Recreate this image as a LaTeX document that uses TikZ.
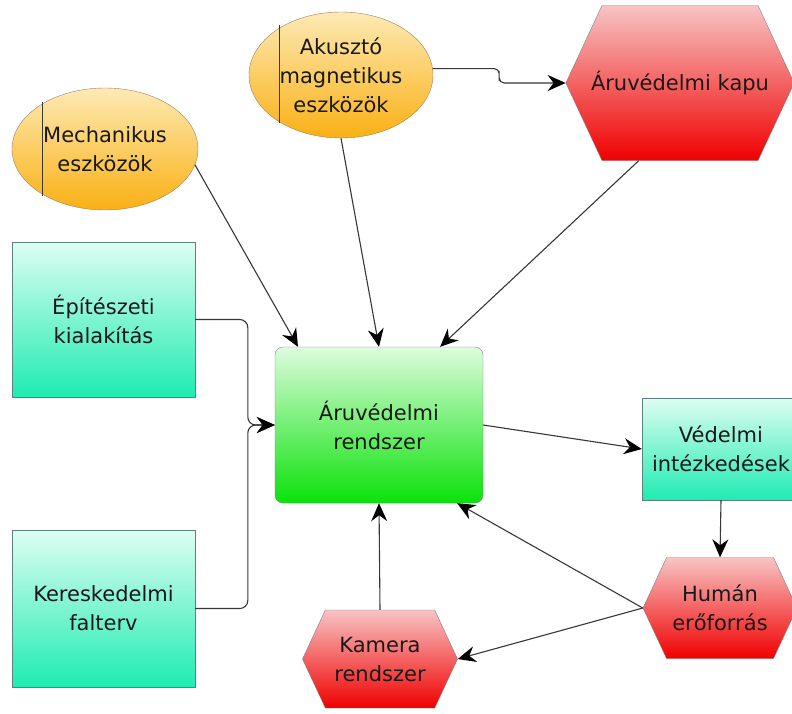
\documentclass[tikz,border=0pt]{standalone}
\usepackage{fontspec}
\setmainfont{DejaVu Sans}
\usepackage{tikz}
\usetikzlibrary{arrows.meta,calc,positioning,shapes.geometric,shapes.symbols}

\definecolor{orgtop}{RGB}{253,234,180}
\definecolor{orgbot}{RGB}{250,176,20}
\definecolor{redtop}{RGB}{248,196,196}
\definecolor{redbot}{RGB}{240,0,0}
\definecolor{grntop}{RGB}{222,252,222}
\definecolor{grnbot}{RGB}{10,226,10}
\definecolor{aqtop}{RGB}{222,253,242}
\definecolor{aqbot}{RGB}{30,236,176}
\definecolor{edge}{RGB}{130,130,130}
\definecolor{wire}{RGB}{55,55,55}

\begin{document}
\begin{tikzpicture}[x=1pt,y=-1pt,>=Stealth,
    lbl/.style={align=center,inner sep=0pt,text=black!90,font={\fontsize{21}{29}\selectfont}},
    tool/.style={lbl,ellipse,draw=edge!80!orange,thin,top color=orgtop,bottom color=orgbot},
    hexa/.style={lbl,signal,signal to=east and west,signal pointer angle=130,draw=edge,thin,top color=redtop,bottom color=redbot},
    plan/.style={lbl,rectangle,draw=edge!70!teal,thin,top color=aqtop,bottom color=aqbot},
    core/.style={lbl,rectangle,rounded corners=8pt,draw=edge,thin,top color=grntop,bottom color=grnbot},
    arr/.style={wire,line width=1.1pt,arrows={-Stealth[length=18pt,width=16pt,inset=6pt,color=black]}}]
  \useasboundingbox (0,0) rectangle (792,713);
  \node[tool,minimum width=186pt,minimum height=122pt] (mech) at (105,149) {Mechanikus\\eszközök};
  \node[tool,minimum width=184pt,minimum height=126pt] (akusz) at (341,75) {Akusztó\\magnetikus\\eszközök};
  \node[hexa,minimum height=155pt,inner xsep=-11pt] (kapu) at (680,83) {Áruvédelmi kapu};
  \node[plan,minimum width=183pt,minimum height=155pt] (epit) at (103.5,319.5) {Építészeti\\kialakítás};
  \node[plan,minimum width=183pt,minimum height=157pt] (keres) at (103.5,608.5) {Kereskedelmi\\falterv};
  \node[core,minimum width=208pt,minimum height=156pt] (rend) at (379,425) {Áruvédelmi\\rendszer};
  \node[plan,minimum width=158pt,minimum height=102pt] (ved) at (721,449) {Védelmi\\intézkedések};
  \node[hexa,minimum width=154pt,minimum height=101pt] (hum) at (720,608) {Humán\\erőforrás};
  \node[hexa,minimum width=155pt,minimum height=98pt] (kam) at (380,659) {Kamera\\rendszer};
  % tool lines inside the ellipses
  \draw[wire,thick] ($(mech.center)+(-63,-47)$) -- ($(mech.center)+(-63,47)$);
  \draw[wire,thick] ($(akusz.center)+(-62,-50)$) -- ($(akusz.center)+(-62,48)$);
  % connectors
  \draw[arr,rounded corners=5pt] (akusz.4) -| ($(akusz.4)!0.5!(kapu.west)$) |- (kapu.west);
  \draw[arr] (mech.-10) -- (rend.136);
  \draw[arr] (akusz.south) -- (rend.north);
  \draw[arr] (kapu.242) -- (rend.52);
  \draw[arr,rounded corners=8pt] (epit.east) -| ($(rend.west)+(-27,0)$) -- (rend.west);
  \draw[arr,rounded corners=8pt] (keres.east) -| ($(rend.west)+(-27,0)$) -- (rend.west);
  \draw[arr] (rend.east) -- (ved.west);
  \draw[arr] (ved.south) -- (hum.north);
  \draw[arr] (hum.west) -- (rend.-45);
  \draw[arr] (hum.west) -- (kam.east);
  \draw[arr] (kam.north) -- (rend.south);
\end{tikzpicture}
\end{document}
